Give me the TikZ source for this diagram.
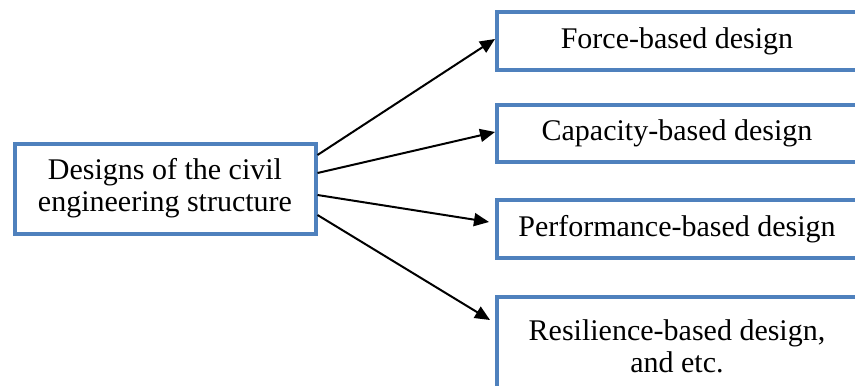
\documentclass[tikz,border=0pt]{standalone}
\usepackage{fontspec}
\setmainfont{Liberation Serif}
\usetikzlibrary{positioning, arrows.meta}
\definecolor{boxblue}{HTML}{4F81BD}

\begin{document}
\begin{tikzpicture}[x=0.5pt, y=-0.5pt]
        \tikzset{designbox/.style={draw=boxblue, line width=2pt, align=center,
                font=\fontsize{15}{16}\selectfont, inner sep=0pt},
                arr/.style={-{Triangle[length=7.5pt,width=6.5pt]}, line width=1pt}}
        % Page frame of the figure
        \clip (0,0) rectangle (855,385);

        \node[designbox, minimum width=150.5pt, minimum height=45pt] (src) at (165,188.5)
                {Designs of the civil\\engineering structure};
        \node[designbox, minimum width=180pt, minimum height=29pt] (des1) at (677,41) {Force-based design};
        \node[designbox, minimum width=180pt, minimum height=28.5pt] (des2) at (677,133.5) {Capacity-based design};
        \node[designbox, minimum width=180pt, minimum height=29pt] (des3) at (677,229) {Performance-based design};
        \node[designbox, minimum width=180pt, minimum height=49pt] (des4) at (677,346)
                {Resilience-based design,\\and etc.};

        \draw[arr] ([yshift=16.75pt]src.east) -- ([yshift=1pt]des1.west);
        \draw[arr] ([yshift=7.75pt]src.east) -- ([yshift=0.75pt]des2.west);
        \draw[arr] ([yshift=-3.25pt]src.east) -- ([xshift=-3pt,yshift=3.5pt]des3.west);
        \draw[arr] ([yshift=-13.25pt]src.east) -- ([xshift=-2.5pt,yshift=13pt]des4.west);
\end{tikzpicture}
\end{document}
